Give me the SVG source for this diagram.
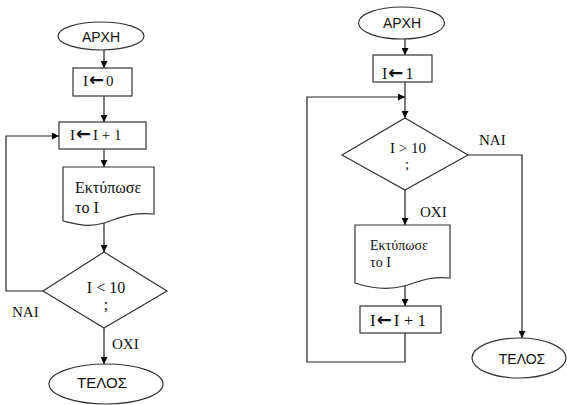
<svg xmlns="http://www.w3.org/2000/svg" width="567" height="405" viewBox="0 0 567 405">
<defs>
<marker id="ah" viewBox="0 0 10 10" refX="10" refY="5" markerWidth="7" markerHeight="7" orient="auto" markerUnits="userSpaceOnUse">
<path d="M0,0 L10,5 L0,10 z" fill="#000"/>
</marker>
<style>
.sh{fill:#fff;stroke:#333;stroke-width:1.2}
.ar{fill:none;stroke:#222;stroke-width:1.2;marker-end:url(#ah)}
.sv{font-family:"Liberation Serif","Times New Roman",serif;fill:#111}
.ss{font-family:"Liberation Sans",Arial,sans-serif;fill:#111}
.aw{font-family:"DejaVu Sans",sans-serif;font-weight:bold;font-size:18px}
</style>
</defs>
<rect width="567" height="405" fill="#fff"/>
<g id="connectors">
<line class="ar" x1="104" y1="50" x2="104" y2="68"/>
<line class="ar" x1="104" y1="96" x2="104" y2="122"/>
<line class="ar" x1="104" y1="149" x2="104" y2="167"/>
<line class="ar" x1="104" y1="222" x2="104" y2="252"/>
<polyline class="ar" points="43,291 6,291 6,136 59,136"/>
<line class="ar" x1="104" y1="328" x2="104" y2="364"/>
<line class="ar" x1="405" y1="39" x2="405" y2="55"/>
<line class="ar" x1="405" y1="82" x2="405" y2="118"/>
<polyline class="ar" points="405,333 405,362 307,362 307,97 405,97"/>
<line class="ar" x1="405" y1="190" x2="405" y2="225"/>
<line class="ar" x1="405" y1="285" x2="405" y2="306"/>
<polyline class="ar" points="468,155 522,155 522,338"/>
<text class="sv" x="12" y="317" font-size="15">ΝΑΙ</text>
<text class="sv" x="112" y="349" font-size="15">ΟΧΙ</text>
<text class="sv" x="479" y="145" font-size="15">ΝΑΙ</text>
<text class="sv" x="420" y="217" font-size="15">ΟΧΙ</text>
</g>
<g id="start1">
<ellipse class="sh" cx="101" cy="36" rx="43" ry="14"/>
<text class="ss" x="101" y="42" font-size="14" text-anchor="middle">ΑΡΧΗ</text>
</g>
<g id="init1">
<rect class="sh" x="73" y="68" width="59" height="28"/>
<text class="sv" x="83" y="86" font-size="15">I<tspan class="aw" dx="1">←</tspan><tspan dx="2">0</tspan></text>
</g>
<g id="inc1">
<rect class="sh" x="59" y="122" width="87" height="27"/>
<text class="sv" x="70" y="140" font-size="15">I<tspan class="aw" dx="1">←</tspan><tspan dx="2">I + 1</tspan></text>
</g>
<g id="print1">
<path class="sh" d="M63,167 H154 V214 C130,212 120,218 104,223 C88,228 75,224 63,221 Z"/>
<text class="sv" x="75" y="193" font-size="16">Εκτύπωσε</text>
<text class="sv" x="75" y="213" font-size="16">το I</text>
</g>
<g id="cond1">
<polygon class="sh" points="104,252 167,291 104,328 43,291"/>
<text class="sv" x="106" y="293" font-size="16" text-anchor="middle">I &lt; 10</text>
<text class="sv" x="106" y="310" font-size="16" text-anchor="middle">;</text>
</g>
<g id="end1">
<ellipse class="sh" cx="106" cy="384" rx="57" ry="20"/>
<text class="ss" x="102" y="388" font-size="15" text-anchor="middle">ΤΕΛΟΣ</text>
</g>
<g id="start2">
<ellipse class="sh" cx="401.5" cy="23" rx="43" ry="16"/>
<text class="ss" x="402" y="28" font-size="14" text-anchor="middle">ΑΡΧΗ</text>
</g>
<g id="init2">
<rect class="sh" x="373" y="55" width="59" height="27"/>
<text class="sv" x="382" y="79" font-size="16">I<tspan class="aw" dx="1">←</tspan><tspan dx="2">1</tspan></text>
</g>
<g id="cond2">
<polygon class="sh" points="405,118 468,155 405,190 342,155"/>
<text class="sv" x="408" y="153" font-size="15" text-anchor="middle">I &gt; 10</text>
<text class="sv" x="407" y="169" font-size="15" text-anchor="middle">;</text>
</g>
<g id="print2">
<path class="sh" d="M355,225 H450 V278 C428,276 418,282 404,286 C386,291 370,288 355,283 Z"/>
<text class="sv" x="370" y="250" font-size="14">Εκτύπωσε</text>
<text class="sv" x="370" y="267" font-size="14">το I</text>
</g>
<g id="inc2">
<rect class="sh" x="360" y="306" width="81" height="27"/>
<text class="sv" x="370" y="326" font-size="17">I<tspan class="aw" dx="1">←</tspan><tspan dx="2">I + 1</tspan></text>
</g>
<g id="end2">
<ellipse class="sh" cx="519" cy="358" rx="47" ry="20"/>
<text class="ss" x="522" y="364" font-size="14" text-anchor="middle">ΤΕΛΟΣ</text>
</g>
</svg>
